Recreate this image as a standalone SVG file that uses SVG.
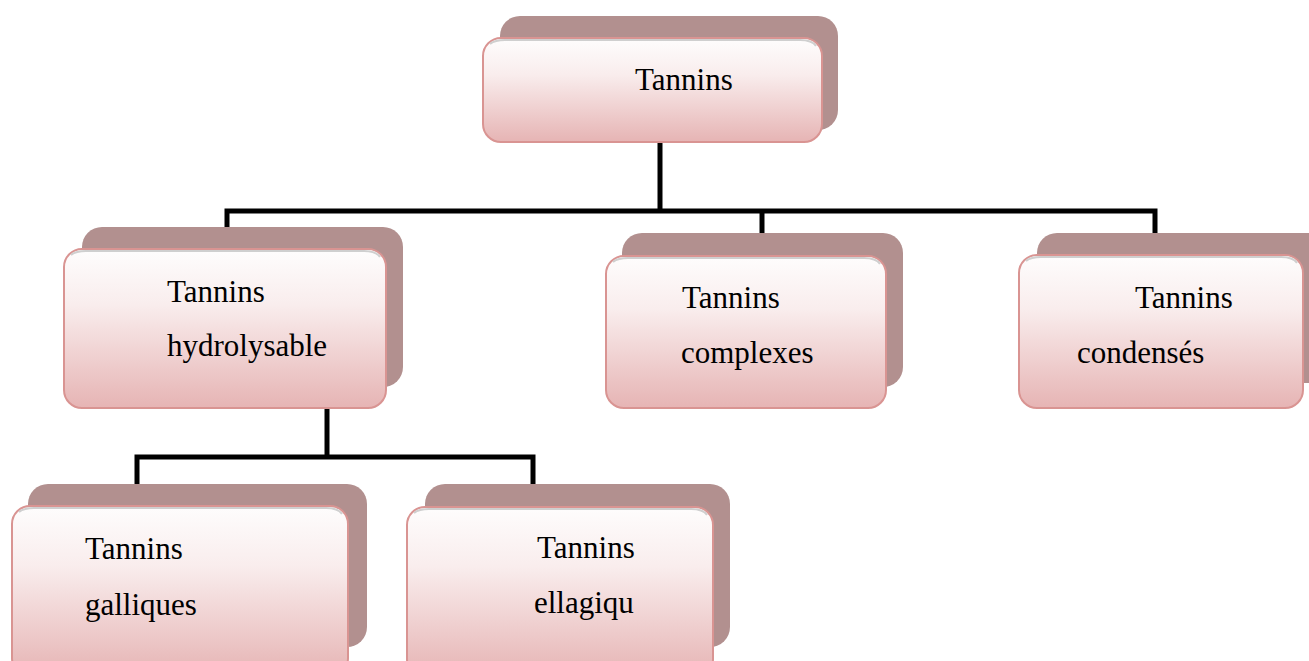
<svg xmlns="http://www.w3.org/2000/svg" width="1309" height="661" viewBox="0 0 1309 661">
<defs>
<linearGradient id="g" x1="0" y1="0" x2="0" y2="1">
<stop offset="0" stop-color="#fefdfd"/>
<stop offset="0.35" stop-color="#f9eded"/>
<stop offset="1" stop-color="#e6b4b4"/>
</linearGradient>
</defs>
<style>
.sh{fill:#b2908f;}
.fr{fill:url(#g);stroke:#d99492;stroke-width:2;}
.hl{fill:none;stroke:#cfcfcf;stroke-width:2;}
.t{font-family:"Liberation Serif","Times New Roman",serif;font-size:31px;fill:#000;}
.c{fill:none;stroke:#000;stroke-width:5;stroke-linejoin:miter;stroke-linecap:butt;}
</style>
<rect width="1309" height="661" fill="#fff"/>
<g id="connectors">
<path class="c" d="M660,142 V211"/>
<path class="c" d="M227,252 V211 H1155 V256"/>
<path class="c" d="M762,211 V257"/>
<path class="c" d="M327,408 V457"/>
<path class="c" d="M137,506 V457 H533 V507"/>
</g>
<g id="node-tannins">
<rect class="sh" x="500" y="16" width="338" height="114" rx="20"/>
<rect class="fr" x="483" y="38" width="339" height="104" rx="18"/>
<path class="hl" d="M490,44 Q495,40 505,40 H800 Q812,40 816,46"/>
<text class="t" x="635" y="90">Tannins</text>
</g>
<g id="node-hydrolysable">
<rect class="sh" x="82" y="227" width="321" height="160" rx="20"/>
<rect class="fr" x="64" y="249" width="322" height="159" rx="18"/>
<path class="hl" d="M71,255 Q76,251 86,251 H364 Q376,251 380,257"/>
<text class="t" x="167" y="302">Tannins</text>
<text class="t" x="167" y="356">hydrolysable</text>
</g>
<g id="node-complexes">
<rect class="sh" x="622" y="233" width="281" height="154" rx="20"/>
<rect class="fr" x="606" y="256" width="280" height="152" rx="18"/>
<path class="hl" d="M613,262 Q618,258 628,258 H864 Q876,258 880,264"/>
<text class="t" x="682" y="308">Tannins</text>
<text class="t" x="681" y="363">complexes</text>
</g>
<g id="node-condenses">
<rect class="sh" x="1037" y="233" width="290" height="150" rx="20"/>
<rect class="fr" x="1019" y="255" width="284" height="153" rx="18"/>
<path class="hl" d="M1026,261 Q1031,257 1041,257 H1281 Q1293,257 1297,263"/>
<text class="t" x="1135" y="308">Tannins</text>
<text class="t" x="1077" y="363">condensés</text>
</g>
<g id="node-galliques">
<rect class="sh" x="28" y="484" width="339" height="163" rx="20"/>
<rect class="fr" x="12" y="506" width="336" height="170" rx="18"/>
<path class="hl" d="M19,512 Q24,508 34,508 H326 Q338,508 342,514"/>
<text class="t" x="85" y="559">Tannins</text>
<text class="t" x="85" y="615">galliques</text>
</g>
<g id="node-ellagiques">
<rect class="sh" x="425" y="484" width="305" height="163" rx="20"/>
<rect class="fr" x="407" y="507" width="306" height="170" rx="18"/>
<path class="hl" d="M414,513 Q419,509 429,509 H691 Q703,509 707,515"/>
<text class="t" x="537" y="558">Tannins</text>
<text class="t" x="534" y="613">ellagiqu</text>
</g>
</svg>
